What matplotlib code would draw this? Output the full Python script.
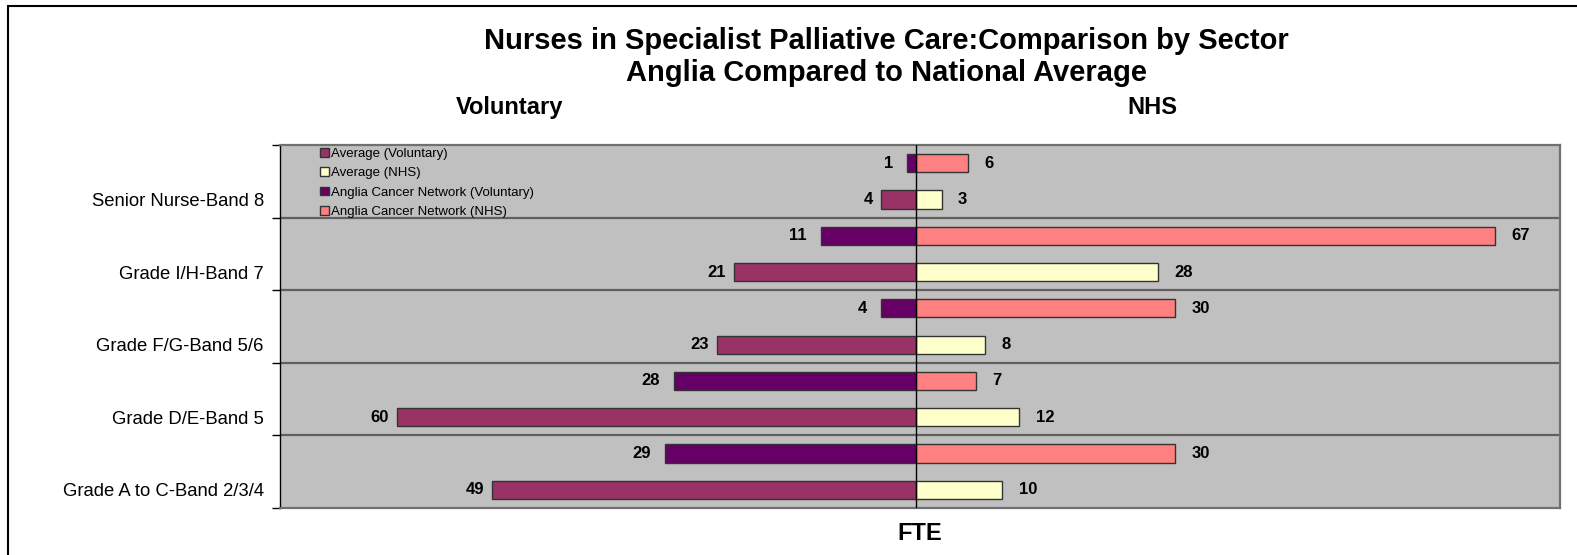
import numpy as np
import matplotlib
matplotlib.use("Agg")
import matplotlib.pyplot as plt
from matplotlib.patches import Rectangle

plt.rcParams['font.family'] = ['Liberation Sans', 'DejaVu Sans']

# data (FTE), categories listed top to bottom
categories = ["Senior Nurse-Band 8", "Grade I/H-Band 7", "Grade F/G-Band 5/6",
              "Grade D/E-Band 5", "Grade A to C-Band 2/3/4"]
anglia_vol = [1, 11, 4, 28, 29]
anglia_nhs = [6, 67, 30, 7, 30]
avg_vol = [4, 21, 23, 60, 49]
avg_nhs = [3, 28, 8, 12, 10]

col_avg_vol = "#993366"
col_avg_nhs = "#FFFFCC"
col_ang_vol = "#660066"
col_ang_nhs = "#FF8080"

fig = plt.figure(figsize=(15.77, 5.55), dpi=100)
ax = fig.add_axes([0.1776, 0.0847, 0.8116, 0.654])
ax.set_facecolor("#C0C0C0")

n = len(categories)
y = np.arange(n)
h = 0.25
edge = dict(edgecolor="#333333", linewidth=1)

b1 = ax.barh(y + 0.75, -np.array(avg_vol), height=h, color=col_avg_vol, **edge,
             label="Average (Voluntary)")
b2 = ax.barh(y + 0.75, avg_nhs, height=h, color=col_avg_nhs, **edge,
             label="Average (NHS)")
b3 = ax.barh(y + 0.25, -np.array(anglia_vol), height=h, color=col_ang_vol, **edge,
             label="Anglia Cancer Network (Voluntary)")
b4 = ax.barh(y + 0.25, anglia_nhs, height=h, color=col_ang_nhs, **edge,
             label="Anglia Cancer Network (NHS)")

# value labels
lab = dict(fontsize=12, fontweight="bold", va="center")
for i in range(n):
    ax.text(-avg_vol[i] - 0.9, i + 0.75, str(avg_vol[i]), ha="right", **lab)
    ax.text(-anglia_vol[i] - 1.6, i + 0.25, str(anglia_vol[i]), ha="right", **lab)
    ax.text(avg_nhs[i] + 1.9, i + 0.75, str(avg_nhs[i]), ha="left", **lab)
    ax.text(anglia_nhs[i] + 1.9, i + 0.25, str(anglia_nhs[i]), ha="left", **lab)

ax.set_xlim(-73.5, 74.5)
ax.set_ylim(n, 0)

# gridlines between categories and zero line
for b in range(1, n):
    ax.axhline(b, color="#606060", linewidth=1.6, zorder=0.5)
ax.axvline(0, color="black", linewidth=1, zorder=3)

ax.set_xticks([])
ax.set_yticks(y + 0.75)
ax.set_yticklabels(categories, fontsize=13.3)
ax.tick_params(axis="y", length=0, pad=11.7)
ax.set_yticks(np.arange(n + 1), minor=True)
ax.tick_params(axis="y", which="minor", length=6, width=1, color="black")

for s in ["top", "right", "bottom"]:
    ax.spines[s].set_color("#707070")
    ax.spines[s].set_linewidth(1.6)
ax.spines["left"].set_color("black")
ax.spines["left"].set_linewidth(1)

ax.set_xlabel("FTE", fontsize=17, fontweight="bold", labelpad=10)

leg = ax.legend(handles=[b1, b2, b3, b4], loc="upper left",
                bbox_to_anchor=(0.024, 1.017), frameon=False, fontsize=9.5,
                handlelength=0.65, handleheight=0.65, handletextpad=0.2,
                labelspacing=0.55, borderpad=0.2)

fig.text(0.5619, 0.927, "Nurses in Specialist Palliative Care:Comparison by Sector",
         ha="center", va="center", fontsize=21, fontweight="bold")
fig.text(0.5619, 0.868, "Anglia Compared to National Average",
         ha="center", va="center", fontsize=21, fontweight="bold")
fig.text(0.323, 0.806, "Voluntary", ha="center", va="center",
         fontsize=17, fontweight="bold")
fig.text(0.7306, 0.806, "NHS", ha="center", va="center",
         fontsize=17, fontweight="bold")

# outer chart border (left and top edges visible)
fig.patches.append(Rectangle((0.0051, -0.1), 1.1, 1.089, transform=fig.transFigure,
                             fill=False, edgecolor="black", linewidth=1.5))

fig.savefig("out.png", dpi=100)
